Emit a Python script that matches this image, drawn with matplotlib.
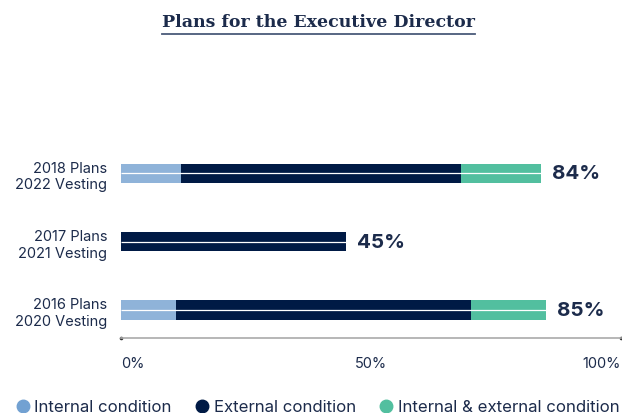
import matplotlib.pyplot as plt
from matplotlib.lines import Line2D

# data (bottom to top)
plans = ["2016 Plans\n2020 Vesting", "2017 Plans\n2021 Vesting", "2018 Plans\n2022 Vesting"]
internal = [11, 0, 12]
external = [59, 45, 56]
both = [15, 0, 16]
totals = [85, 45, 84]

c_int = "#8FB3D9"
c_ext = "#001A45"
c_both = "#52BF9F"
txt = "#1C2B4B"

plt.rcParams["font.family"] = ["Inter", "DejaVu Sans"]

fig = plt.figure(figsize=(6.22, 4.14), dpi=100)
ax = fig.add_axes([121 / 622, 75 / 414, 500 / 622, 199 / 414])

y = list(range(len(plans)))
h = 0.28
left2 = [a + b for a, b in zip(internal, external)]
ax.barh(y, internal, height=h, color=c_int, linewidth=0)
ax.barh(y, external, left=internal, height=h, color=c_ext, linewidth=0)
ax.barh(y, both, left=left2, height=h, color=c_both, linewidth=0)

# thin white line through each bar
for yi, t in zip(y, totals):
    ax.plot([0, t], [yi, yi], color="white", lw=0.9, solid_capstyle="butt")
    ax.text(t + 2.3, yi, f"{t}%", va="center", ha="left",
            fontsize=14.8, fontweight="bold", color=txt)

ax.set_xlim(0, 100)
ax.set_ylim(-0.41, 2.5)
ax.set_yticks(y)
ax.set_yticklabels(plans, fontsize=10.5, color=txt, linespacing=1.25)
ax.tick_params(axis="y", length=0, pad=10)

ax.set_xticks([0, 50, 100])
ax.set_xticklabels(["0%", "50%", "100%"], fontsize=10.5, color=txt)
ax.tick_params(axis="x", length=0, pad=13)
labs = ax.get_xticklabels()
labs[0].set_ha("left")
labs[2].set_ha("right")

for s in ["top", "right", "left"]:
    ax.spines[s].set_visible(False)
ax.spines["bottom"].set_color("#AAAAAA")
ax.spines["bottom"].set_linewidth(1.2)
# little end dots on the axis line
ax.plot([0, 100], [-0.41, -0.41], ls="", marker="o", ms=1.6, color="#333333",
        clip_on=False)

# title with underline
title = fig.text(0.512, 0.945, "Plans for the Executive Director", ha="center",
                 va="center", fontsize=12.5, fontweight="bold",
                 family="DejaVu Serif", color=txt)
fig.canvas.draw()
bb = title.get_window_extent().transformed(fig.transFigure.inverted())
fig.add_artist(Line2D([bb.x0, bb.x1], [0.916, 0.916], color="#4A5A7A",
                      lw=1.3, transform=fig.transFigure))

# legend
handles = [
    Line2D([], [], marker="o", ls="", color="#72A1D2", markersize=9),
    Line2D([], [], marker="o", ls="", color=c_ext, markersize=9),
    Line2D([], [], marker="o", ls="", color=c_both, markersize=9),
]
fig.legend(handles, ["Internal condition", "External condition",
                     "Internal & external condition"],
           loc="lower center", bbox_to_anchor=(0.51, -0.04), ncol=3,
           frameon=False, fontsize=12.1, labelcolor=txt,
           handletextpad=0.25, columnspacing=1.35, handlelength=0.9)

fig.savefig("out.png", dpi=100)
